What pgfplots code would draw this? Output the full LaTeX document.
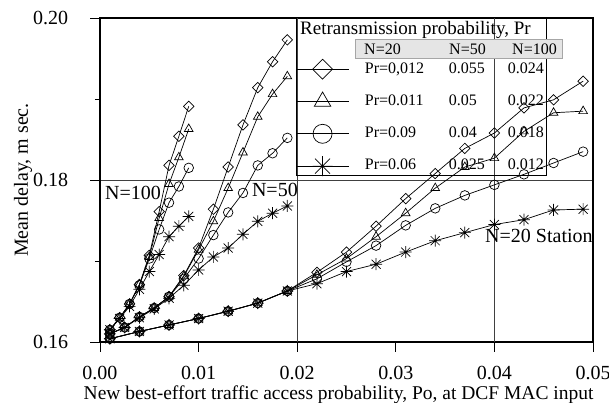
\documentclass[border=0pt]{standalone}
\usepackage{fontspec}
\setmainfont{Liberation Serif}
\usepackage{pgfplots}
\pgfplotsset{compat=1.18}

% eight-armed asterisk as in the original figure
\pgfdeclareplotmark{ast8}{%
  \pgfpathmoveto{\pgfqpoint{-\pgfplotmarksize}{0pt}}\pgfpathlineto{\pgfqpoint{\pgfplotmarksize}{0pt}}%
  \pgfpathmoveto{\pgfqpoint{0pt}{-\pgfplotmarksize}}\pgfpathlineto{\pgfqpoint{0pt}{\pgfplotmarksize}}%
  \pgfpathmoveto{\pgfqpoint{-.75\pgfplotmarksize}{-.75\pgfplotmarksize}}\pgfpathlineto{\pgfqpoint{.75\pgfplotmarksize}{.75\pgfplotmarksize}}%
  \pgfpathmoveto{\pgfqpoint{-.75\pgfplotmarksize}{.75\pgfplotmarksize}}\pgfpathlineto{\pgfqpoint{.75\pgfplotmarksize}{-.75\pgfplotmarksize}}%
  \pgfusepathqstroke}

\pgfplotsset{
  dia/.style={mark=square, mark options={rotate=45, solid}, mark size=3.7pt},
  tri/.style={mark=triangle, mark options={solid}, mark size=5pt},
  cir/.style={mark=o, mark options={solid}, mark size=4.8pt},
  ast/.style={mark=ast8, mark options={solid}, mark size=6pt},
}
\newcommand\lgfont{\fontsize{16}{19}\selectfont}

\begin{document}
\fontsize{20}{24}\selectfont
\begin{tikzpicture}
\begin{axis}[
  name=ax,
  scale only axis,
  width=493pt, height=324pt,
  xmin=0, xmax=0.05, ymin=0.16, ymax=0.20,
  scaled ticks=false,
  xtick={0,0.01,0.02,0.03,0.04,0.05},
  xticklabels={0.00,0.01,0.02,0.03,0.04,0.05},
  ytick={0.16,0.18,0.20},
  yticklabels={0.16,0.18,0.20},
  minor ytick={0.17,0.19},
  tick pos=left, tick align=outside,
  major tick length=10pt, minor tick length=5pt,
  tick style={black, line width=0.8pt},
  xticklabel style={yshift=-7pt},
  yticklabel style={xshift=-15pt},
  ymajorgrids,
  extra x ticks={0.02,0.04},
  extra x tick labels={},
  extra x tick style={grid=major, major tick length=0pt},
  grid style={black!75, line width=0.7pt},
  axis line style={black, line width=1.2pt},
  xlabel={New best-effort traffic access probability, Po, at DCF MAC input},
  xlabel style={at={(axis description cs:0.484,-0.136)}, anchor=north, inner sep=0pt,
    font=\fontsize{19.5}{23}\selectfont},
  ylabel={Mean delay, m sec.},
  ylabel style={at={(axis description cs:-0.156,0.5)}, anchor=center, rotate=0},
  every axis plot/.append style={black, line width=0.7pt},
  legend cell align=left,
  legend style={draw=none, fill=none, inner sep=0pt, row sep=0pt,
    at={(rel axis cs:0.3976,0.8924)}, anchor=north west,
    nodes={inner sep=0pt, minimum height=32.3pt, font=\lgfont}},
  legend image code/.code={%
    \draw[mark repeat=2, mark phase=2, #1] plot coordinates {(0pt,0pt) (26pt,0pt) (52pt,0pt)};},
]

% ---------- N = 100 ----------
\addplot[dia, forget plot] coordinates {
 (0.001,0.1615) (0.002,0.1630) (0.003,0.1647) (0.004,0.1671) (0.005,0.1707)
 (0.006,0.1761) (0.007,0.1818) (0.008,0.1854) (0.009,0.1891)};
\addplot[tri, forget plot] coordinates {
 (0.001,0.1615) (0.002,0.1630) (0.003,0.1647) (0.004,0.1671) (0.005,0.1705)
 (0.006,0.1753) (0.007,0.1795) (0.008,0.1828) (0.009,0.1863)};
\addplot[cir, forget plot] coordinates {
 (0.001,0.1615) (0.002,0.1630) (0.003,0.1647) (0.004,0.1670) (0.005,0.1703)
 (0.006,0.1739) (0.007,0.1772) (0.008,0.1792) (0.009,0.1815)};
\addplot[ast, forget plot] coordinates {
 (0.001,0.1615) (0.002,0.1629) (0.003,0.1644) (0.004,0.1665) (0.005,0.1687)
 (0.006,0.1708) (0.007,0.1730) (0.008,0.1743) (0.009,0.1755)};

% ---------- N = 50 ----------
\addplot[dia, forget plot] coordinates {
 (0.001,0.1610) (0.0025,0.1618) (0.004,0.1631) (0.0055,0.1642) (0.007,0.1656)
 (0.0085,0.1682) (0.010,0.1716) (0.0115,0.1764) (0.013,0.1816) (0.0145,0.1868)
 (0.016,0.1914) (0.0175,0.1946) (0.019,0.1973)};
\addplot[tri, forget plot] coordinates {
 (0.001,0.1610) (0.0025,0.1618) (0.004,0.1631) (0.0055,0.1642) (0.007,0.1656)
 (0.0085,0.1681) (0.010,0.1714) (0.0115,0.1749) (0.013,0.1790) (0.0145,0.1834)
 (0.016,0.1878) (0.0175,0.1906) (0.019,0.1928)};
\addplot[cir, forget plot] coordinates {
 (0.001,0.1610) (0.0025,0.1618) (0.004,0.1631) (0.0055,0.1642) (0.007,0.1656)
 (0.0085,0.1678) (0.010,0.1703) (0.0115,0.1732) (0.013,0.1760) (0.0145,0.1784)
 (0.016,0.1818) (0.0175,0.1833) (0.019,0.1852)};
\addplot[ast, forget plot] coordinates {
 (0.001,0.1610) (0.0025,0.1618) (0.004,0.1630) (0.0055,0.1641) (0.007,0.1654)
 (0.0085,0.1670) (0.010,0.1689) (0.0115,0.1705) (0.013,0.1716) (0.0145,0.1733)
 (0.016,0.1749) (0.0175,0.1759) (0.019,0.1768)};

% ---------- N = 20 ----------
\addplot[dia, forget plot] coordinates {
 (0.001,0.1604) (0.004,0.1613) (0.007,0.1621) (0.010,0.1629) (0.013,0.1638)
 (0.016,0.1648) (0.019,0.1663) (0.022,0.1686) (0.025,0.1711) (0.028,0.1743)
 (0.031,0.1777) (0.034,0.1808) (0.037,0.1839) (0.040,0.1858) (0.043,0.1889)
 (0.046,0.1899) (0.049,0.1922)};
\addplot[tri, forget plot] coordinates {
 (0.001,0.1604) (0.004,0.1613) (0.007,0.1621) (0.010,0.1629) (0.013,0.1638)
 (0.016,0.1648) (0.019,0.1663) (0.022,0.1683) (0.025,0.1703) (0.028,0.1730)
 (0.031,0.1759) (0.034,0.1790) (0.037,0.1816) (0.040,0.1827) (0.043,0.1860)
 (0.046,0.1883) (0.049,0.1885)};
\addplot[cir, forget plot] coordinates {
 (0.001,0.1604) (0.004,0.1613) (0.007,0.1621) (0.010,0.1629) (0.013,0.1638)
 (0.016,0.1648) (0.019,0.1663) (0.022,0.1678) (0.025,0.1699) (0.028,0.1719)
 (0.031,0.1744) (0.034,0.1765) (0.037,0.1781) (0.040,0.1794) (0.043,0.1807)
 (0.046,0.1821) (0.049,0.1835)};
\addplot[ast, forget plot] coordinates {
 (0.001,0.1604) (0.004,0.1613) (0.007,0.1621) (0.010,0.1629) (0.013,0.1638)
 (0.016,0.1648) (0.019,0.1663) (0.022,0.1672) (0.025,0.1687) (0.028,0.1696)
 (0.031,0.1711) (0.034,0.1725) (0.037,0.1735) (0.040,0.1745) (0.043,0.1751)
 (0.046,0.1763) (0.049,0.1764)};

% legend images (larger marks than in the plot)
\addlegendimage{mark=square, mark options={rotate=45, solid}, mark size=7pt}
\addlegendentry{\hspace*{16pt}\makebox[84pt][l]{Pr=0,012}\makebox[59pt][l]{0.055}0.024}
\addlegendimage{mark=triangle, mark options={solid}, mark size=9.5pt}
\addlegendentry{\hspace*{16pt}\makebox[84pt][l]{Pr=0.011}\makebox[59pt][l]{0.05}0.022}
\addlegendimage{mark=o, mark options={solid}, mark size=9.5pt}
\addlegendentry{\hspace*{16pt}\makebox[84pt][l]{Pr=0.09}\makebox[59pt][l]{0.04}0.018}
\addlegendimage{mark=ast8, mark options={solid}, mark size=10pt}
\addlegendentry{\hspace*{16pt}\makebox[84pt][l]{Pr=0.06}\makebox[59pt][l]{0.025}0.012}

% legend frame, title and header
\draw[black, line width=1pt] (rel axis cs:0.3976,1) rectangle (rel axis cs:0.9047,0.5154);
\draw[gray!70, fill=gray!20, line width=0.5pt] (rel axis cs:0.517,0.935) rectangle (rel axis cs:0.937,0.877);
\node[anchor=west, inner sep=0pt, font=\fontsize{19}{22}\selectfont] at (rel axis cs:0.4057,0.963) {Retransmission probability, Pr};
\node[anchor=west, inner sep=0pt, font=\lgfont] at (rel axis cs:0.5355,0.904) {N=20};
\node[anchor=west, inner sep=0pt, font=\lgfont] at (rel axis cs:0.7080,0.904) {N=50};
\node[anchor=west, inner sep=0pt, font=\lgfont] at (rel axis cs:0.8357,0.904) {N=100};

% curve labels
\node[anchor=west, inner sep=0pt] at (rel axis cs:0.0101,0.460) {N=100};
\node[anchor=west, inner sep=0pt] at (rel axis cs:0.3080,0.469) {N=50};
\node[anchor=west, inner sep=0pt] at (rel axis cs:0.7810,0.327) {N=20 Station};
\end{axis}
\pgfresetboundingbox
\path (ax.south west) ++(-100pt,-61pt) coordinate (bbA);
\path (ax.north east) ++(16pt,18pt) coordinate (bbB);
\useasboundingbox (bbA) rectangle (bbB);
\end{tikzpicture}
\end{document}
